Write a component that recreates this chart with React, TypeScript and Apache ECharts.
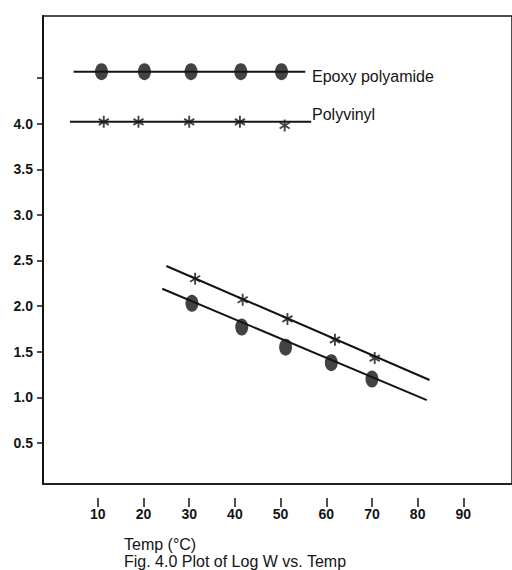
import React, { useEffect, useRef } from "react";
import * as echarts from "echarts";

// Tick values
const xTickValues = [10, 20, 30, 40, 50, 60, 70, 80, 90];
const yTickValues = [0.5, 1.0, 1.5, 2.0, 2.5, 3.0, 3.5, 4.0, 4.5];
const yLabelValues = [0.5, 1.0, 1.5, 2.0, 2.5, 3.0, 3.5, 4.0];

// Measured points [Temp, Log W]
const epoxyLowTemp = [[10.8, 4.57], [20.2, 4.57], [30.4, 4.57], [41.3, 4.57], [50.2, 4.57]];
const polyvinylLowTemp = [[11.3, 4.02], [18.9, 4.02], [30.0, 4.02], [41.1, 4.02], [50.9, 3.98]];
const epoxyHighTemp = [[30.6, 2.03], [41.5, 1.77], [51.1, 1.55], [61.1, 1.38], [70.0, 1.2]];
const polyvinylHighTemp = [[31.3, 2.3], [41.7, 2.07], [51.5, 1.86], [61.9, 1.63], [70.6, 1.43]];

// Fitted lines (end points)
const epoxyFlatFit = [[4.7, 4.57], [55.4, 4.57]];
const polyvinylFlatFit = [[3.9, 4.02], [56.7, 4.02]];
const epoxyTrendFit = [[24.1, 2.19], [82.0, 0.97]];
const polyvinylTrendFit = [[25.0, 2.44], [82.6, 1.19]];

const seriesNames = ["Epoxy polyamide", "Polyvinyl"];
const xAxisTitle = "Temp (°C)";
const caption = "Fig. 4.0 Plot of Log W vs. Temp";

const INK = "#141414";
const FONT = "'Liberation Sans', Arial, sans-serif";

const STAR =
  "path://M4.2 0 L5.8 0 L5.8 10 L4.2 10 Z M8.93 8.19 L0.27 3.19 L1.07 1.81 L9.73 6.81 Z M0.27 6.81 L8.93 1.81 L9.73 3.19 L1.07 8.19 Z";

export default function App() {
  const ref = useRef<HTMLDivElement>(null);

  useEffect(() => {
    if (!ref.current) return;
    const chart = echarts.init(ref.current, undefined, { renderer: "svg" });

    const fitLine = (name: string, data: number[][]) => ({
      name,
      type: "line",
      data,
      symbol: "none",
      silent: true,
      lineStyle: { color: INK, width: 2 },
      z: 2,
    });

    const dots = (name: string, data: number[][]) => ({
      name,
      type: "scatter",
      data,
      symbol: "circle",
      symbolSize: [13, 17],
      itemStyle: { color: INK },
      z: 3,
    });

    const stars = (name: string, data: number[][]) => ({
      name,
      type: "scatter",
      data,
      symbol: STAR,
      symbolSize: [11, 12],
      itemStyle: { color: INK },
      z: 3,
    });

    chart.setOption({
      animation: false,
      backgroundColor: "#ffffff",
      textStyle: { fontFamily: FONT },
      grid: {
        left: 43,
        right: -3,
        top: 16,
        bottom: 86,
        containLabel: false,
        show: true,
        borderColor: INK,
        borderWidth: 1.5,
        backgroundColor: "transparent",
      },
      title: {
        text: xAxisTitle + "\n" + caption,
        left: 119,
        top: 531,
        textStyle: {
          fontFamily: FONT,
          fontSize: 16,
          fontWeight: "normal",
          color: INK,
          lineHeight: 17,
        },
      },
      xAxis: [
        {
          type: "value",
          min: -2,
          max: 100.65,
          position: "bottom",
          axisLine: { show: true, onZero: false, lineStyle: { color: INK, width: 1.5 } },
          axisTick: { show: false },
          axisLabel: { show: false },
          splitLine: { show: false },
        },
        {
          type: "value",
          min: -2,
          max: 100.65,
          position: "bottom",
          offset: 14,
          axisLine: { show: false, onZero: false },
          axisTick: {
            show: true,
            customValues: xTickValues,
            length: 9,
            lineStyle: { color: INK, width: 1.5 },
          },
          axisLabel: {
            show: true,
            customValues: xTickValues,
            margin: 9,
            fontSize: 14,
            fontWeight: "bold",
            color: INK,
            fontFamily: FONT,
          },
          splitLine: { show: false },
        },
      ],
      yAxis: {
        type: "value",
        min: 0.05,
        max: 5.18,
        axisLine: { show: true, onZero: false, lineStyle: { color: INK, width: 2 } },
        axisTick: {
          show: true,
          customValues: yTickValues,
          length: 6,
          lineStyle: { color: INK, width: 1.5 },
        },
        axisLabel: {
          show: true,
          customValues: yLabelValues,
          formatter: (v: number) => v.toFixed(1),
          margin: 10,
          fontSize: 14,
          fontWeight: "bold",
          color: INK,
          fontFamily: FONT,
        },
        splitLine: { show: false },
      },
      graphic: [
        {
          type: "text",
          left: 312,
          top: 68,
          style: {
            text: seriesNames[0],
            fontSize: 16,
            fontFamily: FONT,
            fill: INK,
          },
        },
        {
          type: "text",
          left: 312,
          top: 106,
          style: {
            text: seriesNames[1],
            fontSize: 16,
            fontFamily: FONT,
            fill: INK,
          },
        },
      ],
      series: [
        fitLine(seriesNames[0], epoxyFlatFit),
        fitLine(seriesNames[1], polyvinylFlatFit),
        fitLine(seriesNames[0], epoxyTrendFit),
        fitLine(seriesNames[1], polyvinylTrendFit),
        dots(seriesNames[0], epoxyLowTemp),
        dots(seriesNames[0], epoxyHighTemp),
        stars(seriesNames[1], polyvinylLowTemp),
        stars(seriesNames[1], polyvinylHighTemp),
      ],
    });

    return () => chart.dispose();
  }, []);

  return (
    <div
      ref={ref}
      style={{ position: "fixed", left: 0, top: 0, width: 512, height: 570, background: "#fff" }}
    />
  );
}
